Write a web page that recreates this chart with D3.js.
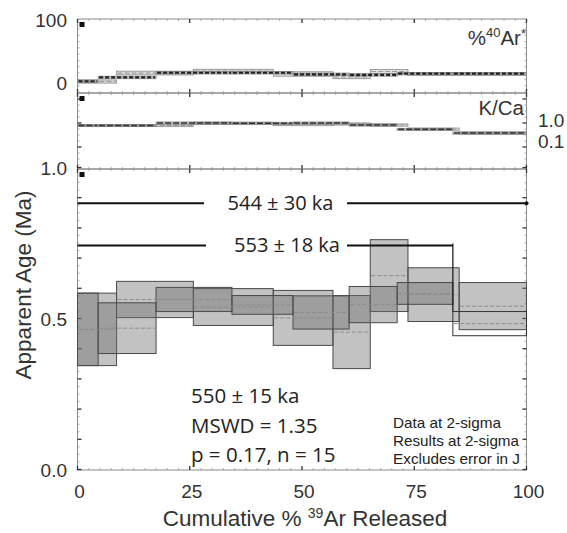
<!DOCTYPE html>
<html><head><meta charset="utf-8">
<script src="https://cdn.jsdelivr.net/npm/d3@7"></script>
<style>body{margin:0;background:#fff}</style>
</head><body><svg id="c" width="567" height="533"></svg>
<script>
// ---- data: two incremental-heating experiments ----
// experiment A (all steps in plateau)
const stepsA   = [0, 8.7, 25.8, 43.6, 56.9, 65.2, 73.6, 85.0, 100];
const ageA     = [0.464, 0.563, 0.538, 0.502, 0.455, 0.642, 0.579, 0.541];
const ageErrA  = [0.120, 0.060, 0.061, 0.091, 0.121, 0.119, 0.089, 0.078];
const radA     = [1.5, 15, 18, 13.5, 9, 17.5, 13.5, 13.5];
const radErrA  = [2.5, 3, 3, 3.5, 3, 3, 2, 2];
const kcaA     = [0.55, 0.55, 0.70, 0.61, 0.65, 0.58, 0.37, 0.24];
// experiment B (last step excluded from plateau)
const stepsB   = [0, 4.6, 17.5, 34.4, 48.0, 60.5, 71.2, 83.6, 100];
const ageB     = [0.464, 0.468, 0.563, 0.545, 0.520, 0.546, 0.583, 0.483];
const ageErrB  = [0.120, 0.084, 0.040, 0.031, 0.055, 0.060, 0.036, 0.040];
const radB     = [2, 8, 15.5, 15.5, 13, 12, 14, 14];
const radErrB  = [2, 2, 2, 2, 2, 2, 2, 2];
const kcaB     = [0.55, 0.55, 0.72, 0.70, 0.72, 0.58, 0.36, 0.24];
const plateauCountB = 7;

const xTicks = [0, 25, 50, 75, 100];
const ageTicks = [0.0, 0.5, 1.0];
const radTicks = [0, 100];
const kcaTicks = [1.0, 0.1];
const plateauLabels = ["544 ± 30 ka", "553 ± 18 ka"];
const resultLines = ["550 ± 15 ka", "MSWD = 1.35", "p = 0.17, n = 15"];
const noteLines = ["Data at 2-sigma", "Results at 2-sigma", "Excludes error in J"];

// ---- layout ----
const L = 77.5, R = 526.5;
const P1 = {top: 19, bottom: 93};
const P2 = {top: 93, bottom: 169};
const P3 = {top: 169, bottom: 470};

const svg = d3.select("#c");
const x = d3.scaleLinear().domain([0, 100]).range([L, R]);
const yRad = d3.scaleLinear().domain([0, 100]).range([82.5, 19.5]);
const yKca = d3.scaleLog().domain([0.1, 1]).range([141, 120]);
const yAge = d3.scaleLinear().domain([0, 1]).range([469.5, 167.5]);

const tickFont = "'Liberation Sans', Arial, sans-serif";
const myFont = "'Open Sans', 'Noto Sans', sans-serif";

function steps(bounds, vals) {
  return vals.map((v, i) => ({x0: bounds[i], x1: bounds[i + 1], v, i}));
}

// panel frames with small inward ticks
function frame(p, yMinor) {
  const g = svg.append("g");
  g.append("rect").attr("x", L).attr("y", p.top).attr("width", R - L).attr("height", p.bottom - p.top)
    .attr("fill", "none").attr("stroke", "#8a8a8a").attr("stroke-width", 1);
  d3.range(0, 100.01, 2.5).forEach(v => {
    const major = Math.abs(v % 25) < 1e-6;
    const len = major ? 4 : 2;
    [[p.top, 1], [p.bottom, -1]].forEach(([yy, dir]) => {
      g.append("line").attr("x1", x(v)).attr("x2", x(v)).attr("y1", yy).attr("y2", yy + dir * len)
        .attr("stroke", major ? "#333" : "#999").attr("stroke-width", major ? 1.3 : 0.8);
    });
  });
  yMinor.forEach(([yy, major]) => {
    const len = major ? 4 : 2;
    [[L, 1], [R, -1]].forEach(([xx, dir]) => {
      g.append("line").attr("x1", xx).attr("x2", xx + dir * len).attr("y1", yy).attr("y2", yy)
        .attr("stroke", major ? "#333" : "#999").attr("stroke-width", major ? 1.3 : 0.8);
    });
  });
  g.append("rect").attr("x", L + 2).attr("y", p.top + 3).attr("width", 5).attr("height", 5).attr("fill", "#111");
}

frame(P1, d3.range(-15, 101, 10).filter(v => yRad(v) > P1.top && yRad(v) < P1.bottom).map(v => [yRad(v), v % 50 === 0]));
frame(P2, d3.range(P2.top + 6, P2.bottom, 6).map((v, i) => [v, i % 4 === 0]));
frame(P3, d3.range(0, 1.001, 0.025).map(v => [yAge(v), Math.abs((v * 10) % 1) < 1e-6 || Math.abs((v * 10) % 1 - 1) < 1e-6]));

// ---- %40Ar* panel ----
function smallSteps(bounds, vals, errs, scale, centerColor, dash, width, fill) {
  const d = steps(bounds, vals);
  svg.append("g").selectAll("rect").data(d).join("rect")
    .attr("x", s => x(s.x0)).attr("width", s => x(s.x1) - x(s.x0))
    .attr("y", s => scale(s.v + errs[s.i])).attr("height", s => scale(s.v - errs[s.i]) - scale(s.v + errs[s.i]))
    .attr("fill", fill).attr("stroke", "#888").attr("stroke-width", 0.8);
  svg.append("g").selectAll("line").data(d).join("line")
    .attr("x1", s => x(s.x0) + 1).attr("x2", s => x(s.x1) - 1)
    .attr("y1", s => scale(s.v)).attr("y2", s => scale(s.v))
    .attr("stroke", centerColor).attr("stroke-width", width).attr("stroke-dasharray", dash);
}
smallSteps(stepsA, radA, radErrA, yRad, "#9a9a9a", "5,2", 1.2, "#e2e2e2");
smallSteps(stepsB, radB, radErrB, yRad, "#222", "4,2", 2.2, "rgba(140,140,140,0.35)");

// ---- K/Ca panel ----
const kcaErr = v => v * 0.12;
function kcaSteps(bounds, vals, centerColor, dash, width, fill) {
  const d = steps(bounds, vals);
  svg.append("g").selectAll("rect").data(d).join("rect")
    .attr("x", s => x(s.x0)).attr("width", s => x(s.x1) - x(s.x0))
    .attr("y", s => yKca(s.v + kcaErr(s.v))).attr("height", s => yKca(s.v - kcaErr(s.v)) - yKca(s.v + kcaErr(s.v)))
    .attr("fill", fill).attr("stroke", "#888").attr("stroke-width", 0.8);
  svg.append("g").selectAll("line").data(d).join("line")
    .attr("x1", s => x(s.x0) + 1).attr("x2", s => x(s.x1) - 1)
    .attr("y1", s => yKca(s.v)).attr("y2", s => yKca(s.v))
    .attr("stroke", centerColor).attr("stroke-width", width).attr("stroke-dasharray", dash);
}
kcaSteps(stepsA, kcaA, "#999", "5,2", 1, "#e4e4e4");
kcaSteps(stepsB, kcaB, "#333", "6,2", 1.4, "rgba(140,140,140,0.3)");

// ---- age spectrum ----
const dA = steps(stepsA, ageA);
const dB = steps(stepsB, ageB);
const gAge = svg.append("g");
function ageBoxes(d, errs, inPlateau) {
  gAge.append("g").selectAll("rect").data(d).join("rect")
    .attr("x", s => x(s.x0)).attr("width", s => x(s.x1) - x(s.x0))
    .attr("y", s => yAge(s.v + errs[s.i])).attr("height", s => yAge(s.v - errs[s.i]) - yAge(s.v + errs[s.i]))
    .attr("fill", s => inPlateau(s.i) ? "#6e6e6e" : "none")
    .attr("fill-opacity", 0.42)
    .attr("stroke", s => inPlateau(s.i) ? "#4a4a4a" : "#333")
    .attr("stroke-width", 1);
}
ageBoxes(dA, ageErrA, () => true);
ageBoxes(dB, ageErrB, i => i < plateauCountB);
gAge.append("g").selectAll("line").data(dA.concat(dB)).join("line")
  .attr("x1", s => x(s.x0) + 1).attr("x2", s => x(s.x1) - 1)
  .attr("y1", s => yAge(s.v)).attr("y2", s => yAge(s.v))
  .attr("stroke", "#8c8c8c").attr("stroke-width", 1).attr("stroke-dasharray", "4,2");

// plateau bars
const plateauEndB = stepsB[plateauCountB];
function plateauBar(level, from, to, label, tx0, tx1, tc) {
  const yy = yAge(level);
  svg.append("line").attr("x1", x(from)).attr("x2", tx0).attr("y1", yy).attr("y2", yy)
    .attr("stroke", "#111").attr("stroke-width", 2);
  svg.append("line").attr("x1", tx1).attr("x2", x(to)).attr("y1", yy).attr("y2", yy)
    .attr("stroke", "#111").attr("stroke-width", 2);
  svg.append("text").attr("x", tc).attr("y", yy + 7).attr("text-anchor", "middle")
    .attr("font-family", myFont).attr("font-size", 20).attr("fill", "#222").text(label);
}
plateauBar(0.882, 0, 100, plateauLabels[0], 204, 347, 280.5);
svg.append("circle").attr("cx", x(100)).attr("cy", yAge(0.882)).attr("r", 2).attr("fill", "#111");
plateauBar(0.742, 0, plateauEndB, plateauLabels[1], 206, 347, 287);
svg.append("line").attr("x1", x(plateauEndB)).attr("x2", x(plateauEndB))
  .attr("y1", yAge(0.742) - 2).attr("y2", yAge(ageB[plateauCountB] + ageErrB[plateauCountB]))
  .attr("stroke", "#111").attr("stroke-width", 1.2);

// ---- text ----
svg.append("text").attr("y", 403).attr("font-family", myFont).attr("font-size", 20.5).attr("fill", "#222")
  .selectAll("tspan").data(resultLines).join("tspan").attr("x", 191).attr("dy", (d, i) => i ? 29.5 : 0).text(d => d);
svg.append("text").attr("y", 428).attr("font-family", tickFont).attr("font-size", 15).attr("fill", "#222")
  .selectAll("tspan").data(noteLines).join("tspan").attr("x", 393).attr("dy", (d, i) => i ? 18 : 0)
  .attr("textLength", (d, i) => [108, 126, 127][i]).attr("lengthAdjust", "spacingAndGlyphs").text(d => d);

// panel labels
const pl = svg.append("text").attr("x", 526).attr("y", 45).attr("text-anchor", "end")
  .attr("font-family", tickFont).attr("font-size", 20.5).attr("fill", "#333");
pl.append("tspan").text("%");
pl.append("tspan").attr("font-size", 13).attr("dy", -8).text("40");
pl.append("tspan").attr("dy", 8).text("Ar");
pl.append("tspan").attr("font-size", 13).attr("dy", -7).text("*");
svg.append("text").attr("x", 524).attr("y", 115).attr("text-anchor", "end")
  .attr("font-family", tickFont).attr("font-size", 20.5).attr("fill", "#333").text("K/Ca");

// axes tick labels
const tl = (xx, yy, t, anchor) => svg.append("text").attr("x", xx).attr("y", yy).attr("text-anchor", anchor)
  .attr("font-family", tickFont).attr("font-size", 19).attr("fill", "#333").text(t);
radTicks.forEach(v => tl(67, yRad(v) + 7, String(v), "end"));
kcaTicks.forEach(v => tl(538, yKca(v) + 7, v.toFixed(1), "start"));
ageTicks.forEach(v => tl(67, yAge(v) + 7, v.toFixed(1), "end"));
xTicks.forEach(v => tl(x(v) + 2, 498, String(v), "middle"));

// axis titles
const xt = svg.append("text").attr("x", 305).attr("y", 526).attr("text-anchor", "middle")
  .attr("font-family", tickFont).attr("font-size", 22.5).attr("fill", "#333");
xt.append("tspan").text("Cumulative % ");
xt.append("tspan").attr("font-size", 14).attr("dy", -8).text("39");
xt.append("tspan").attr("dy", 8).text("Ar Released");
svg.append("text").attr("transform", "translate(31,285) rotate(-90)").attr("text-anchor", "middle")
  .attr("font-family", tickFont).attr("font-size", 22.5).attr("fill", "#333").text("Apparent Age (Ma)");
</script></body></html>
